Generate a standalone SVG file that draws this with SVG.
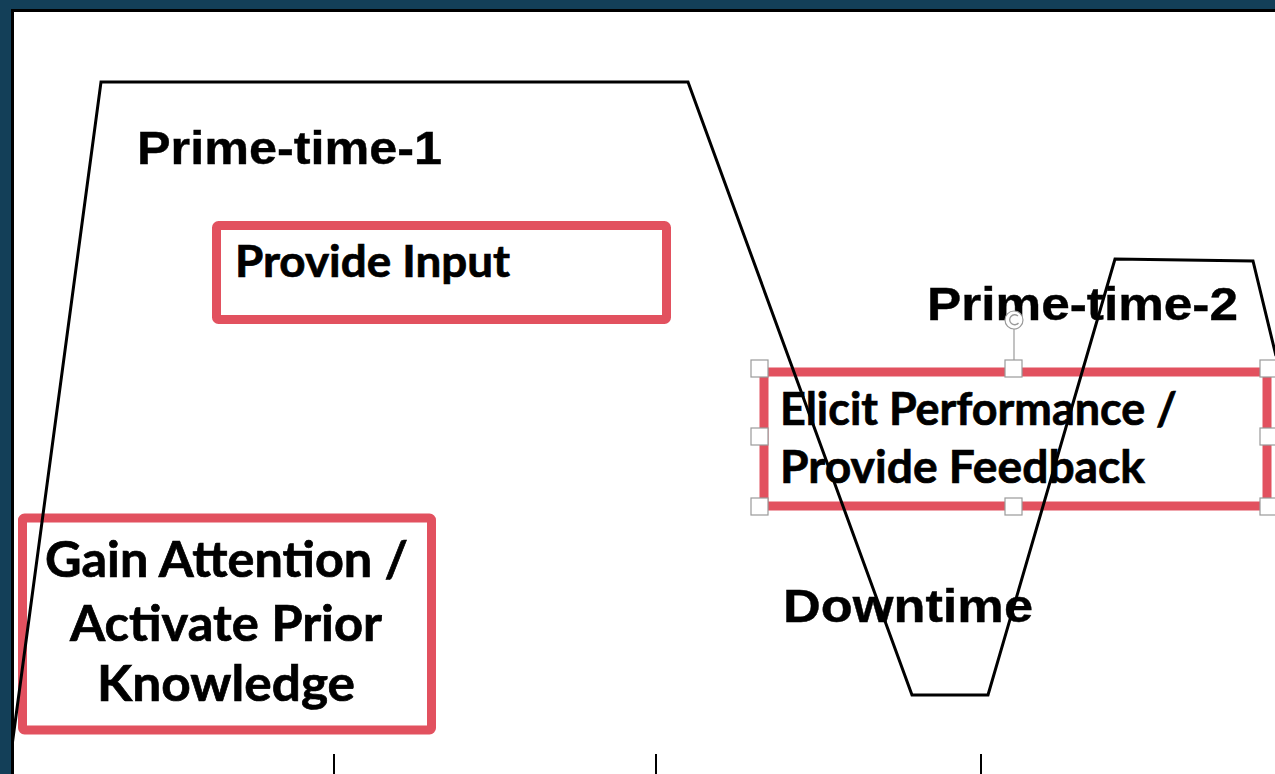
<svg xmlns="http://www.w3.org/2000/svg" width="1275" height="774" viewBox="0 0 1275 774">
  <defs>
    <style>
      .bg { fill: #133f58; }
      .panel { fill: #ffffff; stroke: #000000; stroke-width: 3; }
      .box { fill: none; stroke: #e2515f; stroke-width: 9; }
      .lbl { font-family: "Lato", "Open Sans", sans-serif; font-weight: 700; fill: #000000; stroke: #000000; stroke-width: 0.7; }
      .phase { font-family: "Liberation Sans", Arial, sans-serif; font-weight: 700; fill: #000000; stroke: #000000; stroke-width: 0.4; }
      .curve { fill: none; stroke: #000000; stroke-width: 3; stroke-linejoin: miter; }
      .tick { stroke: #000000; stroke-width: 2; }
      .handle { fill: #ffffff; stroke: #9a9a9a; stroke-width: 1.2; }
    </style>
  </defs>

  <rect class="bg" x="0" y="0" width="1275" height="774"/>
  <rect class="panel" x="12.5" y="10.5" width="1300" height="800"/>

  <g id="phase-labels">
    <text id="prime-time-1" class="phase" x="137" y="164" font-size="47" textLength="305" lengthAdjust="spacingAndGlyphs">Prime-time-1</text>
    <text id="prime-time-2" class="phase" x="927" y="320" font-size="47" textLength="311" lengthAdjust="spacingAndGlyphs">Prime-time-2</text>
    <text id="downtime" class="phase" x="783" y="622" font-size="47" textLength="250" lengthAdjust="spacingAndGlyphs">Downtime</text>
  </g>

  <g id="node-provide-input">
    <rect class="box" x="216.5" y="225.5" width="450" height="94" rx="2"/>
    <text class="lbl" x="235" y="277" font-size="44" textLength="275" lengthAdjust="spacingAndGlyphs">Provide Input</text>
  </g>

  <g id="node-gain-attention">
    <rect class="box" x="22.5" y="518" width="409" height="212" rx="2"/>
    <text class="lbl" x="45" y="577" font-size="50" textLength="363" lengthAdjust="spacingAndGlyphs">Gain Attention /</text>
    <text class="lbl" x="70" y="641" font-size="50" textLength="312" lengthAdjust="spacingAndGlyphs">Activate Prior</text>
    <text class="lbl" x="97" y="701" font-size="50" textLength="258" lengthAdjust="spacingAndGlyphs">Knowledge</text>
  </g>

  <g id="node-elicit-performance">
    <rect class="box" x="764" y="372" width="503" height="134"/>
    <text class="lbl" x="780" y="425" font-size="46" textLength="397" lengthAdjust="spacingAndGlyphs">Elicit Performance /</text>
    <text class="lbl" x="780" y="483" font-size="46" textLength="365" lengthAdjust="spacingAndGlyphs">Provide Feedback</text>
  </g>

  <g id="connectors">
    <path class="curve" d="M12.5,742 L101,82 L688,82 L912,695 L988,695 L1115,259 L1253,261 L1276,356"/>
    <line class="tick" x1="334" y1="754" x2="334" y2="774"/>
    <line class="tick" x1="656" y1="754" x2="656" y2="774"/>
    <line class="tick" x1="981" y1="754" x2="981" y2="774"/>
  </g>

  <g id="selection-handles">
    <line x1="1014" y1="329" x2="1014" y2="361" stroke="#9a9a9a" stroke-width="1.2"/>
    <circle cx="1014" cy="320" r="9" fill="#ffffff" stroke="#9a9a9a" stroke-width="1.2"/>
    <path d="M1018,316 A5,5 0 1 0 1018.5,323" fill="none" stroke="#9a9a9a" stroke-width="1.3"/>
    <rect class="handle" x="751" y="360" width="17" height="17"/>
    <rect class="handle" x="1005" y="360" width="17" height="17"/>
    <rect class="handle" x="1260" y="360" width="17" height="17"/>
    <rect class="handle" x="751" y="428" width="17" height="17"/>
    <rect class="handle" x="1260" y="428" width="17" height="17"/>
    <rect class="handle" x="751" y="498" width="17" height="17"/>
    <rect class="handle" x="1005" y="498" width="17" height="17"/>
    <rect class="handle" x="1260" y="498" width="17" height="17"/>
  </g>
</svg>
